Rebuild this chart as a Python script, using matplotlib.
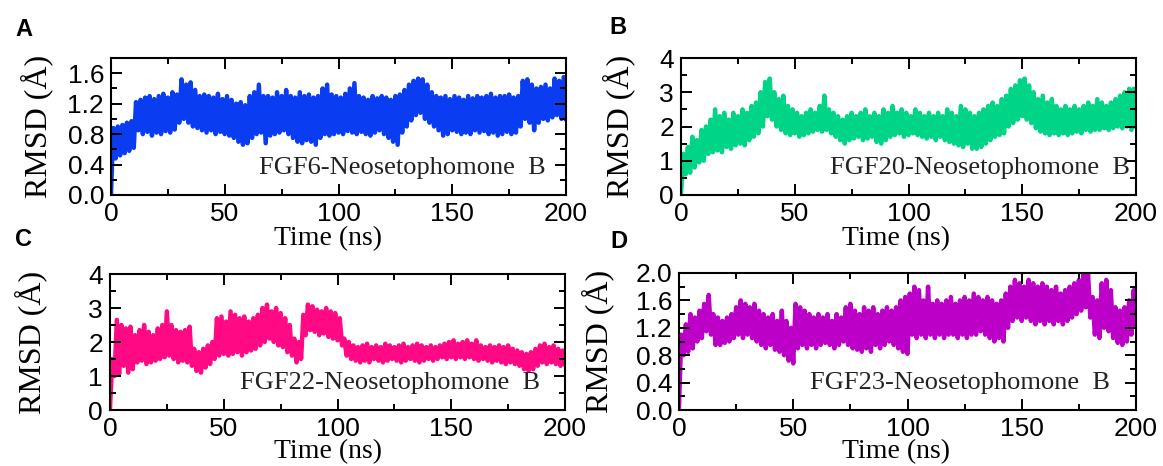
import matplotlib
matplotlib.use('Agg')
import matplotlib.pyplot as plt
from matplotlib.ticker import MultipleLocator, FormatStrFormatter

# time axis, 1 ns per frame
time_ns = list(range(0, 201))

# FGF6-Neosetophomone B (panel A)
rmsd_fgf6 = [0.02,
    0.88, 0.48, 0.90, 0.52, 0.92, 0.55, 0.95, 0.58, 0.97, 0.62,
    1.22, 0.85, 1.25, 0.80, 1.28, 0.83, 1.30, 0.78, 1.26, 0.82,
    1.30, 0.80, 1.33, 0.84, 1.28, 0.82, 1.35, 0.86, 1.32, 0.95,
    1.52, 1.00, 1.45, 0.95, 1.48, 0.90, 1.38, 0.88, 1.30, 0.85,
    1.32, 0.82, 1.30, 0.85, 1.28, 0.80, 1.33, 0.83, 1.26, 0.80,
    1.30, 0.78, 1.25, 0.75, 1.20, 0.70, 1.22, 0.66, 1.18, 0.68,
    1.30, 0.75, 1.35, 0.80, 1.45, 0.82, 1.30, 0.68, 1.30, 0.78,
    1.28, 0.80, 1.35, 0.82, 1.30, 0.85, 1.38, 0.80, 1.30, 0.75,
    1.28, 0.70, 1.35, 0.68, 1.30, 0.72, 1.32, 0.70, 1.28, 0.66,
    1.30, 0.75, 1.40, 0.80, 1.45, 0.78, 1.32, 0.80, 1.30, 0.82,
    1.28, 0.80, 1.33, 0.84, 1.40, 0.82, 1.47, 0.80, 1.30, 0.83,
    1.28, 0.80, 1.25, 0.78, 1.30, 0.82, 1.27, 0.85, 1.30, 0.80,
    1.28, 0.75, 1.25, 0.70, 1.30, 0.66, 1.32, 0.82, 1.38, 0.90,
    1.45, 0.98, 1.50, 1.05, 1.53, 1.08, 1.52, 1.00, 1.45, 0.95,
    1.35, 0.90, 1.30, 0.85, 1.28, 0.78, 1.30, 0.80, 1.26, 0.85,
    1.30, 0.83, 1.28, 0.80, 1.25, 0.82, 1.30, 0.80, 1.27, 0.85,
    1.30, 0.82, 1.28, 0.84, 1.30, 0.80, 1.33, 0.82, 1.28, 0.78,
    1.30, 0.80, 1.30, 0.83, 1.32, 0.80, 1.28, 0.82, 1.30, 0.90,
    1.50, 1.00, 1.52, 0.95, 1.45, 0.85, 1.40, 0.95, 1.42, 1.00,
    1.45, 0.98, 1.40, 1.02, 1.53, 1.05, 1.50, 1.00, 1.55, 1.00]

# FGF20-Neosetophomone B (panel B)
rmsd_fgf20 = [0.05,
    1.20, 0.60, 1.40, 0.65, 1.70, 0.80, 1.60, 0.95, 1.90, 1.00,
    2.00, 1.20, 2.20, 1.25, 2.50, 1.30, 2.30, 1.25, 2.40, 1.40,
    2.20, 1.35, 2.40, 1.45, 2.30, 1.50, 2.50, 1.45, 2.40, 1.60,
    2.60, 1.70, 2.70, 1.80, 3.00, 2.00, 3.30, 2.30, 3.40, 2.20,
    3.00, 2.00, 2.80, 1.90, 2.90, 1.80, 2.60, 1.75, 2.50, 1.80,
    2.40, 1.70, 2.30, 1.75, 2.40, 1.80, 2.50, 1.85, 2.40, 1.90,
    2.60, 1.85, 2.90, 1.90, 2.50, 1.80, 2.40, 1.70, 2.30, 1.60,
    2.20, 1.50, 2.30, 1.60, 2.40, 1.65, 2.30, 1.70, 2.40, 1.60,
    2.50, 1.65, 2.30, 1.70, 2.40, 1.55, 2.30, 1.50, 2.50, 1.60,
    2.40, 1.70, 2.60, 1.75, 2.40, 1.80, 2.50, 1.70, 2.40, 1.75,
    2.30, 1.80, 2.50, 1.75, 2.40, 1.70, 2.30, 1.65, 2.40, 1.70,
    2.30, 1.60, 2.40, 1.70, 2.30, 1.60, 2.50, 1.55, 2.40, 1.50,
    2.30, 1.45, 2.60, 1.40, 2.50, 1.50, 2.40, 1.35, 2.30, 1.35,
    2.40, 1.40, 2.50, 1.50, 2.60, 1.60, 2.70, 1.70, 2.60, 1.75,
    2.80, 1.80, 2.90, 2.00, 3.10, 2.10, 3.20, 2.20, 3.35, 2.30,
    3.40, 2.20, 3.20, 2.10, 3.00, 1.95, 2.80, 1.85, 2.90, 1.80,
    2.70, 1.75, 2.80, 1.80, 2.60, 1.75, 2.50, 1.80, 2.60, 1.75,
    2.50, 1.80, 2.60, 1.85, 2.50, 1.80, 2.60, 1.90, 2.70, 1.85,
    2.60, 1.90, 2.80, 1.90, 2.70, 1.95, 2.60, 1.90, 2.70, 1.95,
    2.80, 2.00, 2.90, 1.95, 3.00, 2.00, 3.10, 1.90, 3.10, 2.00]

# FGF22-Neosetophomone B (panel C)
rmsd_fgf22 = [0.05,
    1.50, 1.00, 2.65, 1.05, 2.50, 1.30, 2.40, 1.10, 2.45, 1.20,
    2.20, 1.40, 2.35, 1.45, 2.50, 1.35, 2.30, 1.40, 2.20, 1.45,
    2.40, 1.50, 2.50, 1.55, 2.90, 1.60, 2.50, 1.50, 2.35, 1.40,
    2.30, 1.45, 2.35, 1.40, 2.45, 1.30, 1.80, 1.15, 1.70, 1.10,
    1.80, 1.25, 1.90, 1.35, 2.00, 1.50, 2.70, 1.60, 2.75, 1.65,
    2.60, 1.60, 2.90, 1.65, 2.80, 1.70, 2.70, 1.60, 2.75, 1.70,
    2.60, 1.75, 2.70, 1.80, 2.80, 1.90, 3.00, 2.00, 3.10, 2.10,
    2.90, 2.00, 3.00, 1.90, 2.85, 1.85, 2.70, 1.70, 2.50, 1.60,
    2.10, 1.40, 2.00, 1.50, 2.80, 2.20, 3.10, 2.35, 3.05, 2.30,
    2.95, 2.20, 2.90, 2.25, 3.00, 2.15, 2.90, 2.10, 2.85, 2.05,
    2.70, 1.90, 2.10, 1.60, 2.00, 1.50, 1.90, 1.45, 1.85, 1.40,
    1.90, 1.45, 1.95, 1.40, 1.85, 1.50, 1.90, 1.45, 1.85, 1.40,
    1.95, 1.45, 1.90, 1.50, 1.85, 1.45, 1.90, 1.40, 1.95, 1.45,
    1.85, 1.50, 1.90, 1.45, 1.95, 1.40, 1.90, 1.45, 1.85, 1.50,
    1.90, 1.45, 1.85, 1.50, 1.90, 1.55, 1.95, 1.50, 2.00, 1.55,
    2.05, 1.50, 1.95, 1.55, 2.00, 1.50, 2.05, 1.55, 1.95, 1.50,
    2.05, 1.45, 1.90, 1.50, 1.85, 1.45, 1.90, 1.40, 1.85, 1.45,
    1.90, 1.40, 1.85, 1.35, 1.90, 1.40, 1.80, 1.35, 1.75, 1.30,
    1.70, 1.20, 1.65, 1.15, 1.70, 1.20, 1.80, 1.30, 1.90, 1.40,
    1.95, 1.35, 1.85, 1.40, 1.90, 1.35, 1.80, 1.30, 1.75, 1.35]

# FGF23-Neosetophomone B (panel D)
rmsd_fgf23 = [0.05,
    1.10, 0.80, 1.25, 0.85, 1.40, 0.90, 1.35, 1.00, 1.45, 1.05,
    1.55, 1.15, 1.68, 1.10, 1.40, 0.95, 1.35, 0.95, 1.30, 0.98,
    1.35, 1.00, 1.40, 1.05, 1.50, 1.10, 1.60, 1.05, 1.55, 1.10,
    1.50, 1.05, 1.55, 1.00, 1.45, 0.95, 1.40, 0.90, 1.35, 0.95,
    1.40, 0.88, 1.30, 0.85, 1.45, 0.80, 1.30, 0.72, 1.20, 0.68,
    1.55, 0.90, 1.50, 0.95, 1.45, 0.90, 1.40, 0.95, 1.35, 0.90,
    1.40, 0.95, 1.35, 0.98, 1.40, 0.95, 1.30, 0.90, 1.40, 0.95,
    1.35, 1.00, 1.50, 0.95, 1.55, 0.90, 1.45, 0.88, 1.40, 0.85,
    1.50, 0.90, 1.45, 0.85, 1.50, 0.95, 1.40, 0.90, 1.45, 0.95,
    1.50, 1.00, 1.45, 0.95, 1.50, 0.90, 1.60, 0.85, 1.65, 0.82,
    1.70, 1.10, 1.80, 1.05, 1.75, 1.10, 1.60, 1.05, 1.80, 1.10,
    1.55, 1.05, 1.60, 1.10, 1.55, 1.05, 1.60, 1.10, 1.65, 1.10,
    1.55, 1.05, 1.60, 1.10, 1.65, 1.05, 1.60, 1.10, 1.70, 1.10,
    1.65, 1.15, 1.60, 1.10, 1.65, 1.05, 1.60, 1.00, 1.55, 1.05,
    1.60, 1.00, 1.70, 1.20, 1.80, 1.30, 1.90, 1.35, 1.85, 1.30,
    1.80, 1.35, 1.90, 1.30, 1.85, 1.25, 1.80, 1.30, 1.85, 1.25,
    1.80, 1.30, 1.75, 1.25, 1.80, 1.30, 1.70, 1.25, 1.75, 1.30,
    1.80, 1.35, 1.85, 1.40, 1.90, 1.45, 1.98, 1.50, 2.00, 1.35,
    1.65, 1.10, 1.60, 1.05, 1.85, 1.20, 1.90, 1.15, 1.75, 1.05,
    1.50, 0.98, 1.45, 0.95, 1.50, 1.00, 1.60, 1.10, 1.75, 1.25]

panel_letters = ['A', 'B', 'C', 'D']
complex_names = ['FGF6-Neosetophomone  B', 'FGF20-Neosetophomone  B',
                 'FGF22-Neosetophomone  B', 'FGF23-Neosetophomone  B']
series = [rmsd_fgf6, rmsd_fgf20, rmsd_fgf22, rmsd_fgf23]
colors = ['#0a3cf2', '#00d486', '#ff0a84', '#bd00c8']
y_max = [1.8, 4, 4, 2.0]
y_major = [0.4, 1, 1, 0.4]
y_fmt = ['%.1f', '%d', '%d', '%.1f']

W, H = 1163, 466
# axes boxes in pixels: left, top, right, bottom
boxes = [(111, 58, 566, 195), (681, 58, 1136, 195),
         (110, 274, 565, 410), (679, 273, 1136, 410)]
letter_xy = [(24, 29), (618, 27), (23, 239), (619, 242)]
name_x = [0.956, 0.987, 0.945, 0.943]
ylab_x = [37, 619, 31, 598]
xlab_x = [328, 896, 328, 896]
xlab_y = [239, 239, 452, 452]

sans = 'Liberation Sans'
serif = 'Liberation Serif'

fig = plt.figure(figsize=(11.63, 4.66), dpi=100)

for i in range(4):
    l, t, r, b = boxes[i]
    ax = fig.add_axes([l / W, 1 - b / H, (r - l) / W, (b - t) / H])
    ax.plot(time_ns, series[i], color=colors[i], linewidth=3.2, zorder=1)
    ax.set_xlim(0, 200)
    ax.set_ylim(0, y_max[i])
    ax.xaxis.set_major_locator(MultipleLocator(50))
    ax.xaxis.set_minor_locator(MultipleLocator(25))
    ax.yaxis.set_major_locator(MultipleLocator(y_major[i]))
    ax.yaxis.set_minor_locator(MultipleLocator(y_major[i] / 2))
    ax.yaxis.set_major_formatter(FormatStrFormatter(y_fmt[i]))
    ax.tick_params(which='both', direction='in', top=True, right=True, width=1.4)
    ax.tick_params(which='major', length=8, labelsize=19, pad=5)
    ax.tick_params(which='minor', length=4)
    for lab in ax.get_xticklabels() + ax.get_yticklabels():
        lab.set_fontfamily(sans)
    for sp in ax.spines.values():
        sp.set_linewidth(1.5)
    ax.text(name_x[i], 0.2, complex_names[i], transform=ax.transAxes,
            ha='right', va='center', fontsize=19, family=serif, color='#222222')
    # axis titles
    fig.text(xlab_x[i] / W, 1 - xlab_y[i] / H, 'Time (ns)', ha='center', va='center',
             fontsize=20, family=serif)
    fig.text(ylab_x[i] / W, 1 - (t + b) / 2 / H, 'RMSD (Å)', ha='center', va='center',
             rotation=90, fontsize=23, family=serif)
    fig.text(letter_xy[i][0] / W, 1 - letter_xy[i][1] / H, panel_letters[i],
             ha='center', va='center', fontsize=17, fontweight='bold', family=sans)

fig.savefig('out.png', dpi=100)
